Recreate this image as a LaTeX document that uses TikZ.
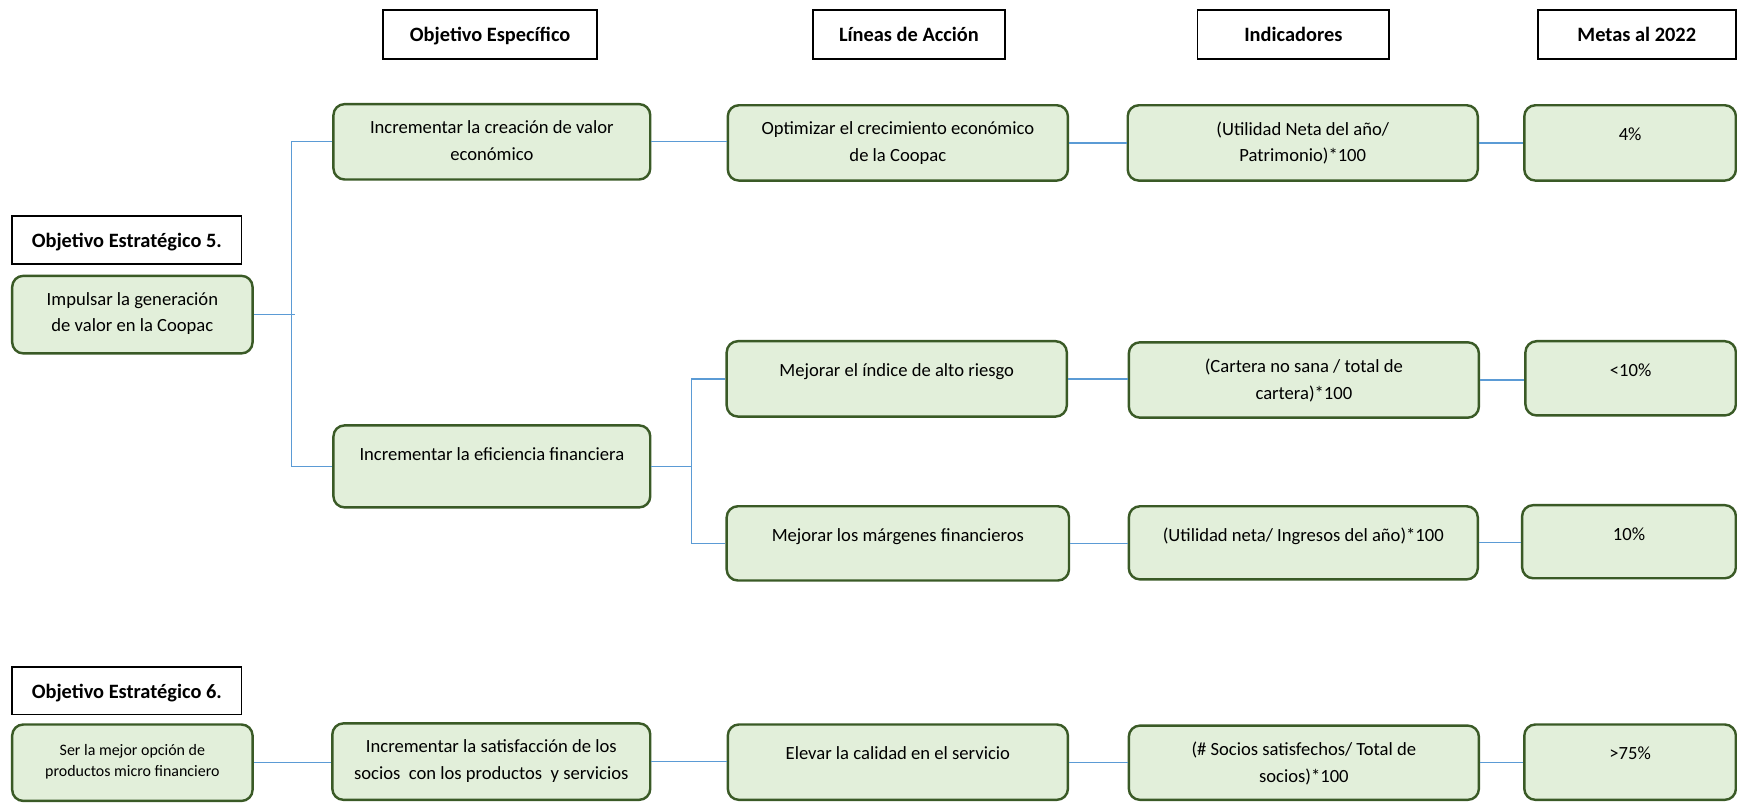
\documentclass[tikz,border=0pt]{standalone}
\usepackage{fontspec}
\setmainfont{Carlito}
\usetikzlibrary{fit}
\definecolor{boxfill}{HTML}{E2EFDA}
\definecolor{boxline}{HTML}{3A5A26}
\definecolor{linkblue}{HTML}{5B9BD5}
\tikzset{
  gbox/.style={draw=boxline, fill=boxfill, line width=1.1pt, rounded corners=5pt, inner sep=0pt},
  hbox/.style={draw=black, line width=0.8pt, inner sep=0pt},
  htxt/.style={inner sep=0pt, anchor=base, font=\fontsize{9.2}{11}\selectfont\bfseries},
  btxt/.style={align=center, inner sep=0pt, anchor=north, yshift=-7.8pt,
    font=\fontsize{8.4}{12}\selectfont, execute at begin node=\strut},
  stxt/.style={align=center, inner sep=0pt, anchor=north, yshift=-9.5pt,
    font=\fontsize{7.2}{9.3}\selectfont, execute at begin node=\strut},
  conn/.style={draw=linkblue, line width=0.6pt},
}
% green rounded box with its text set near the top
\newcommand\greenbox[7][btxt]{%
  \node[gbox, fit={(#3,#4) (#5,#6)}] (#2) {};
  \node[#1] (#2-t) at (#2.north) {#7};}
% black framed heading
\newcommand\headbox[6]{%
  \node[hbox, fit={(#2,#3) (#4,#5)}] (#1) {};
  \node[htxt] (#1-t) at ([yshift=-3.4pt]#1.center) {#6};}
% horizontal link from one box to the next
\newcommand\link[2]{\draw[conn] (#1.east) -- (#1.east -| #2.west);}
\begin{document}
\begin{tikzpicture}[x=0.5pt, y=-0.5pt]
\useasboundingbox (0,0) rectangle (1568,725);

% column headings
\headbox{hesp}{346}{9}{539}{53}{Objetivo Específico}
\headbox{hlin}{734}{9}{907}{53}{Líneas de Acción}
\headbox{hind}{1081}{9}{1254}{53}{Indicadores}
\headbox{hmet}{1388}{9}{1567}{53}{Metas al 2022}
\headbox{hoe5}{11}{195}{218}{238}{Objetivo Estratégico 5.}
\headbox{hoe6}{11}{602}{218}{645}{Objetivo Estratégico 6.}

% objective 5
\greenbox{imp}{11}{249}{228}{319}{Impulsar la generación\\de valor en la Coopac}
\greenbox{crea}{301}{94}{587}{162}{Incrementar la creación de valor\\económico}
\greenbox{efic}{301}{384}{587}{458}{Incrementar la eficiencia financiera}
\greenbox{opt}{657}{95}{964}{163}{Optimizar el crecimiento económico\\de la Coopac}
\greenbox{ind}{656}{308}{963}{376}{Mejorar el índice de alto riesgo}
\greenbox{mar}{656}{457}{965}{524}{Mejorar los márgenes financieros}
\greenbox{util}{1018}{95}{1334}{163}{(Utilidad Neta del año/\\Patrimonio)*100}
\greenbox{cart}{1019}{309}{1335}{377}{(Cartera no sana / total de\\cartera)*100}
\greenbox{ingr}{1019}{457}{1334}{523}{(Utilidad neta/ Ingresos del año)*100}
\greenbox{m4}{1376}{95}{1567}{163}{4\%}
\greenbox{m10a}{1377}{308}{1567}{375}{<10\%}
\greenbox{m10b}{1374}{456}{1567}{522}{10\%}

% objective 6
\greenbox[stxt]{ser}{11}{654}{228}{723}{Ser la mejor opción de\\productos micro financiero}
\greenbox{sat}{300}{653}{587}{722}{Incrementar la satisfacción de los\\socios\ \ con los productos\ \ y servicios}
\greenbox{elev}{657}{654}{964}{722}{Elevar la calidad en el servicio}
\greenbox{soc}{1019}{655}{1335}{722}{(\# Socios satisfechos/ Total de\\socios)*100}
\greenbox{m75}{1376}{654}{1567}{722}{>75\%}

% connectors
\coordinate (ja) at (263,284);
\coordinate (jb) at (624,421);
\draw[conn] (crea.west) -| (ja) |- (efic.west);
\draw[conn] (imp.east) -- ([xshift=1.5pt]imp.east -| ja);
\draw[conn] (ind.west) -| (jb) |- (mar.west);
\draw[conn] (efic.east) -- (efic.east -| jb);
\link{crea}{opt}
\link{opt}{util}
\link{util}{m4}
\link{ind}{cart}
\link{cart}{m10a}
\link{mar}{ingr}
\link{ingr}{m10b}
\link{ser}{sat}
\link{sat}{elev}
\link{elev}{soc}
\link{soc}{m75}
\end{tikzpicture}
\end{document}
